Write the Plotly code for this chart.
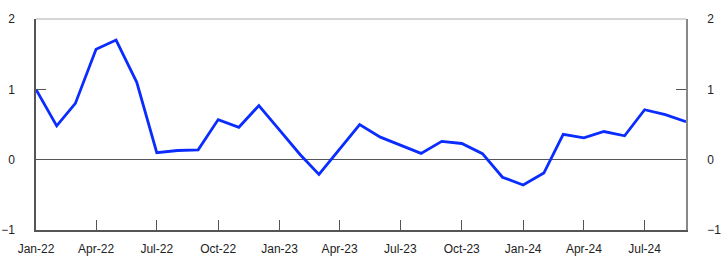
import plotly.graph_objects as go
import pandas as pd

dates = pd.date_range("2022-01-01", "2024-09-01", freq="MS")
values = [1.00, 0.48, 0.80, 1.57, 1.70, 1.10, 0.10, 0.13, 0.14, 0.57, 0.46, 0.77,
          0.42, 0.07, -0.21, 0.15, 0.50, 0.32, 0.21, 0.09, 0.26, 0.23, 0.085, -0.25,
          -0.36, -0.19, 0.36, 0.31, 0.40, 0.34, 0.71, 0.64, 0.54]
y_ticks = [-1, 0, 1, 2]

BLUE = "#0a2cff"
AX = "#555555"
FONT = dict(family="Liberation Sans, Arial, sans-serif", size=12, color="#222222")

fig = go.Figure()
fig.add_trace(go.Scatter(x=dates, y=values, mode="lines",
                         line=dict(color=BLUE, width=2.8), hoverinfo="skip"))
fig.add_trace(go.Scatter(x=dates, y=values, mode="lines", yaxis="y2",
                         line=dict(color="rgba(0,0,0,0)", width=0), hoverinfo="skip"))

fig.update_layout(
    width=722, height=266,
    margin=dict(l=36, r=36, t=19, b=36, autoexpand=False),
    paper_bgcolor="white", plot_bgcolor="white",
    showlegend=False, font=FONT,
    xaxis=dict(
        type="date", range=[dates[0], dates[-1]], automargin=False,
        tick0="2022-01-01", dtick="M3", tickformat="%b-%y",
        ticks="inside", ticklen=10, tickcolor=AX, tickwidth=1,
        showline=True, linecolor=AX, linewidth=1.5,
        showgrid=False, zeroline=False, ticklabelstandoff=7,
    ),
    yaxis=dict(
        range=[-1, 2], tickvals=y_ticks, automargin=False,
        ticks="inside", ticklen=10, tickcolor=AX, tickwidth=1,
        showline=True, linecolor=AX, linewidth=1.5,
        showgrid=False, zeroline=True, zerolinecolor=AX, zerolinewidth=1.2,
        ticklabelstandoff=17,
    ),
    yaxis2=dict(
        range=[-1, 2], tickvals=y_ticks, overlaying="y", side="right", automargin=False,
        ticks="inside", ticklen=10, tickcolor=AX, tickwidth=1,
        showline=True, linecolor="#888888", linewidth=1.5,
        showgrid=False, zeroline=False, ticklabelstandoff=17,
    ),
    shapes=[dict(type="line", xref="paper", yref="paper", x0=0, x1=1, y0=1, y1=1,
                 line=dict(color="#c8c8c8", width=1.5))],
)

fig.write_html("out.html")
